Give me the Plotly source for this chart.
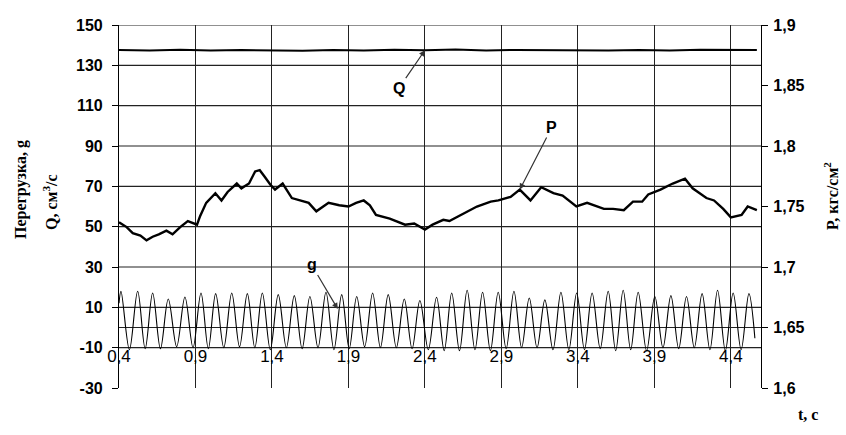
import plotly.graph_objects as go

# ---------------- data ----------------
# time ticks (s)
x_ticks = [0.4, 0.9, 1.4, 1.9, 2.4, 2.9, 3.4, 3.9, 4.4]
left_ticks = [-30, -10, 10, 30, 50, 70, 90, 110, 130, 150]
left_labels = ["-30", "-10", "10", "30", "50", "70", "90", "110", "130", "150"]
right_ticks = [1.6, 1.65, 1.7, 1.75, 1.8, 1.85, 1.9]
grid_levels = [-10, 0, 10, 30, 50, 70, 90, 110, 130, 150]

# Q, cm3/s
Q_t = [0.4, 0.6, 0.8, 1.0, 1.2, 1.4, 1.6, 1.8, 2.0, 2.2, 2.4, 2.6, 2.8, 3.0,
       3.2, 3.4, 3.6, 3.8, 4.0, 4.2, 4.4, 4.57]
Q_v = [137.6, 137.4, 137.7, 137.3, 137.6, 137.5, 137.2, 137.6, 137.4, 137.7,
       137.5, 137.8, 137.4, 137.6, 137.5, 137.7, 137.3, 137.6, 137.4, 137.7,
       137.5, 137.6]

# P, kgf/cm2
P_t = [0.40, 0.45, 0.49, 0.54, 0.58, 0.62, 0.66, 0.71, 0.75, 0.80, 0.85, 0.91,
       0.93, 0.97, 1.03, 1.07, 1.11, 1.17, 1.20, 1.25, 1.29, 1.32, 1.35, 1.39,
       1.42, 1.47, 1.53, 1.58, 1.64, 1.69, 1.77, 1.84, 1.90, 1.95, 2.00, 2.04,
       2.08, 2.17, 2.27, 2.33, 2.40, 2.45, 2.52, 2.56, 2.65, 2.74, 2.83, 2.88,
       2.96, 3.02, 3.09, 3.16, 3.24, 3.30, 3.39, 3.46, 3.57, 3.63, 3.70, 3.76,
       3.82, 3.86, 3.94, 4.02, 4.10, 4.15, 4.24, 4.29, 4.35, 4.40, 4.47, 4.51,
       4.57]
P_v = [1.737, 1.733, 1.728, 1.726, 1.722, 1.725, 1.727, 1.730, 1.727, 1.733,
       1.738, 1.735, 1.742, 1.753, 1.761, 1.755, 1.762, 1.769, 1.765, 1.769,
       1.779, 1.780, 1.775, 1.768, 1.764, 1.769, 1.757, 1.755, 1.753, 1.746,
       1.753, 1.751, 1.750, 1.753, 1.755, 1.751, 1.743, 1.740, 1.735, 1.736,
       1.731, 1.735, 1.739, 1.738, 1.744, 1.750, 1.754, 1.755, 1.758, 1.764,
       1.755, 1.766, 1.761, 1.759, 1.750, 1.753, 1.748, 1.748, 1.747, 1.754,
       1.754, 1.760, 1.764, 1.769, 1.773, 1.765, 1.757, 1.755, 1.748, 1.741,
       1.743, 1.750, 1.747]

# g (overload) - extrema of the oscillation
g_t = [0.400, 0.413, 0.468, 0.522, 0.571, 0.620, 0.671, 0.722, 0.777, 0.831,
       0.884, 0.936, 0.984, 1.032, 1.085, 1.137, 1.188, 1.239, 1.288, 1.337,
       1.389, 1.441, 1.494, 1.546, 1.597, 1.648, 1.701, 1.753, 1.805, 1.856,
       1.905, 1.954, 2.006, 2.058, 2.109, 2.160, 2.213, 2.265, 2.316, 2.367,
       2.422, 2.476, 2.526, 2.575, 2.626, 2.676, 2.727, 2.777, 2.828, 2.879,
       2.931, 2.982, 3.032, 3.082, 3.133, 3.184, 3.237, 3.289, 3.341, 3.392,
       3.443, 3.493, 3.546, 3.598, 3.647, 3.696, 3.745, 3.794, 3.849, 3.903,
       3.956, 4.008, 4.059, 4.110, 4.161, 4.212, 4.263, 4.313, 4.364, 4.415,
       4.467, 4.518, 4.557]
g_v = [12.0, 18.0, -11.0, 18.0, -10.5, 17.1, -10.5, 14.1, -9.5, 15.1,
       -10.0, 17.1, -10.5, 16.8, -10.0, 17.1, -9.5, 16.8, -10.0, 17.1,
       -11.0, 16.3, -10.0, 15.8, -10.5, 15.4, -10.0, 17.5, -11.0, 16.3,
       -10.5, 15.4, -9.5, 17.1, -10.0, 16.3, -10.0, 14.1, -10.5, 13.4,
       -11.0, 15.0, -11.5, 17.1, -11.5, 18.5, -11.0, 17.5, -11.5, 17.5,
       -10.5, 18.0, -10.0, 14.6, -10.0, 13.7, -11.0, 17.5, -11.0, 17.1,
       -11.0, 17.1, -10.5, 18.0, -11.5, 18.5, -11.0, 17.5, -11.5, 15.4,
       -10.0, 15.8, -10.5, 15.4, -10.0, 16.8, -11.0, 18.5, -11.5, 17.1,
       -11.0, 16.8, -5.3]

# ---------------- figure ----------------
fig = go.Figure()
fig.add_trace(go.Scatter(x=g_t, y=g_v, mode="lines", yaxis="y",
                         line=dict(color="black", width=1.1, shape="spline", smoothing=1.0),
                         showlegend=False, hoverinfo="skip"))
fig.add_trace(go.Scatter(x=Q_t, y=Q_v, mode="lines", yaxis="y",
                         line=dict(color="black", width=2),
                         showlegend=False, hoverinfo="skip"))
fig.add_trace(go.Scatter(x=P_t, y=P_v, mode="lines", yaxis="y2",
                         line=dict(color="black", width=2.4),
                         showlegend=False, hoverinfo="skip"))

for lv in grid_levels:
    fig.add_shape(type="line", xref="x domain", yref="y", x0=0, x1=1, y0=lv, y1=lv,
                  line=dict(color="#222", width=1.2), layer="below")

tick_font_b = dict(family="Liberation Sans, Arial, sans-serif", size=16, color="black", weight="bold")
title_font = dict(family="Liberation Serif, Times New Roman, serif", size=16, color="black", weight="bold")

fig.update_layout(
    width=846, height=435,
    margin=dict(l=119, r=85, t=25, b=47, autoexpand=False),
    paper_bgcolor="white", plot_bgcolor="white",
    separators=", ",
    xaxis=dict(range=[0.4, 4.597], tickvals=x_ticks, showgrid=True, gridcolor="#222",
               gridwidth=1.2, zeroline=False, showline=False, ticks="",
               anchor="free", position=(-10 - (-30)) / 180.0 + 4.0 / 363.0,
               tickfont=dict(family="Liberation Sans, Arial, sans-serif", size=17, color="black")),
    yaxis=dict(range=[-30, 150], tickvals=left_ticks, ticktext=left_labels,
               showgrid=False, zeroline=False, automargin=False,
               showline=True, linecolor="black", linewidth=1.2, ticks="outside",
               ticklen=6, tickcolor="black", tickfont=tick_font_b, ticklabelstandoff=6),
    yaxis2=dict(range=[1.6, 1.9], tickvals=right_ticks, overlaying="y", side="right",
                showgrid=False, zeroline=False, showline=True, linecolor="black",
                automargin=False,
                linewidth=1.2, ticks="outside", ticklen=6, tickcolor="black",
                tickfont=tick_font_b, ticklabelstandoff=2),
)

ann_font = dict(family="Liberation Sans, Arial, sans-serif", size=16, color="black", weight="bold")
fig.add_annotation(x=2.4, y=137.5, xref="x", yref="y", text="Q", showarrow=True,
                   ax=-26, ay=38, arrowhead=2, arrowsize=1, arrowwidth=1.2,
                   arrowcolor="#333", font=ann_font)
fig.add_annotation(x=3.02, y=1.764, xref="x", yref="y2", text="P", showarrow=True,
                   ax=32, ay=-62, arrowhead=2, arrowsize=1, arrowwidth=1.2,
                   arrowcolor="#333", font=ann_font)
fig.add_annotation(x=1.83, y=9.2, xref="x", yref="y", text="g", showarrow=True,
                   ax=-26, ay=-44, arrowhead=2, arrowsize=1, arrowwidth=1.2,
                   arrowcolor="#333", font=ann_font)

fig.add_annotation(xref="paper", yref="paper", x=(21 - 119) / 642, y=(388 - 190) / 363,
                   text="Перегрузка, g", textangle=-90, showarrow=False,
                   xanchor="center", yanchor="middle", font=title_font)
fig.add_annotation(xref="paper", yref="paper", x=(50 - 119) / 642, y=(388 - 202) / 363,
                   text="Q, см<sup>3</sup>/с", textangle=-90, showarrow=False,
                   xanchor="center", yanchor="middle", font=title_font)
fig.add_annotation(xref="paper", yref="paper", x=(831 - 119) / 642, y=(388 - 196) / 363,
                   text="P, кгс/см<sup>2</sup>", textangle=-90, showarrow=False,
                   xanchor="center", yanchor="middle", font=title_font)
fig.add_annotation(xref="paper", yref="paper", x=(808 - 119) / 642, y=(388 - 414) / 363,
                   text="t, c", showarrow=False,
                   xanchor="center", yanchor="middle", font=title_font)

fig.write_html("out.html", config={"displayModeBar": False},
               post_script="document.body.style.margin='0';")
